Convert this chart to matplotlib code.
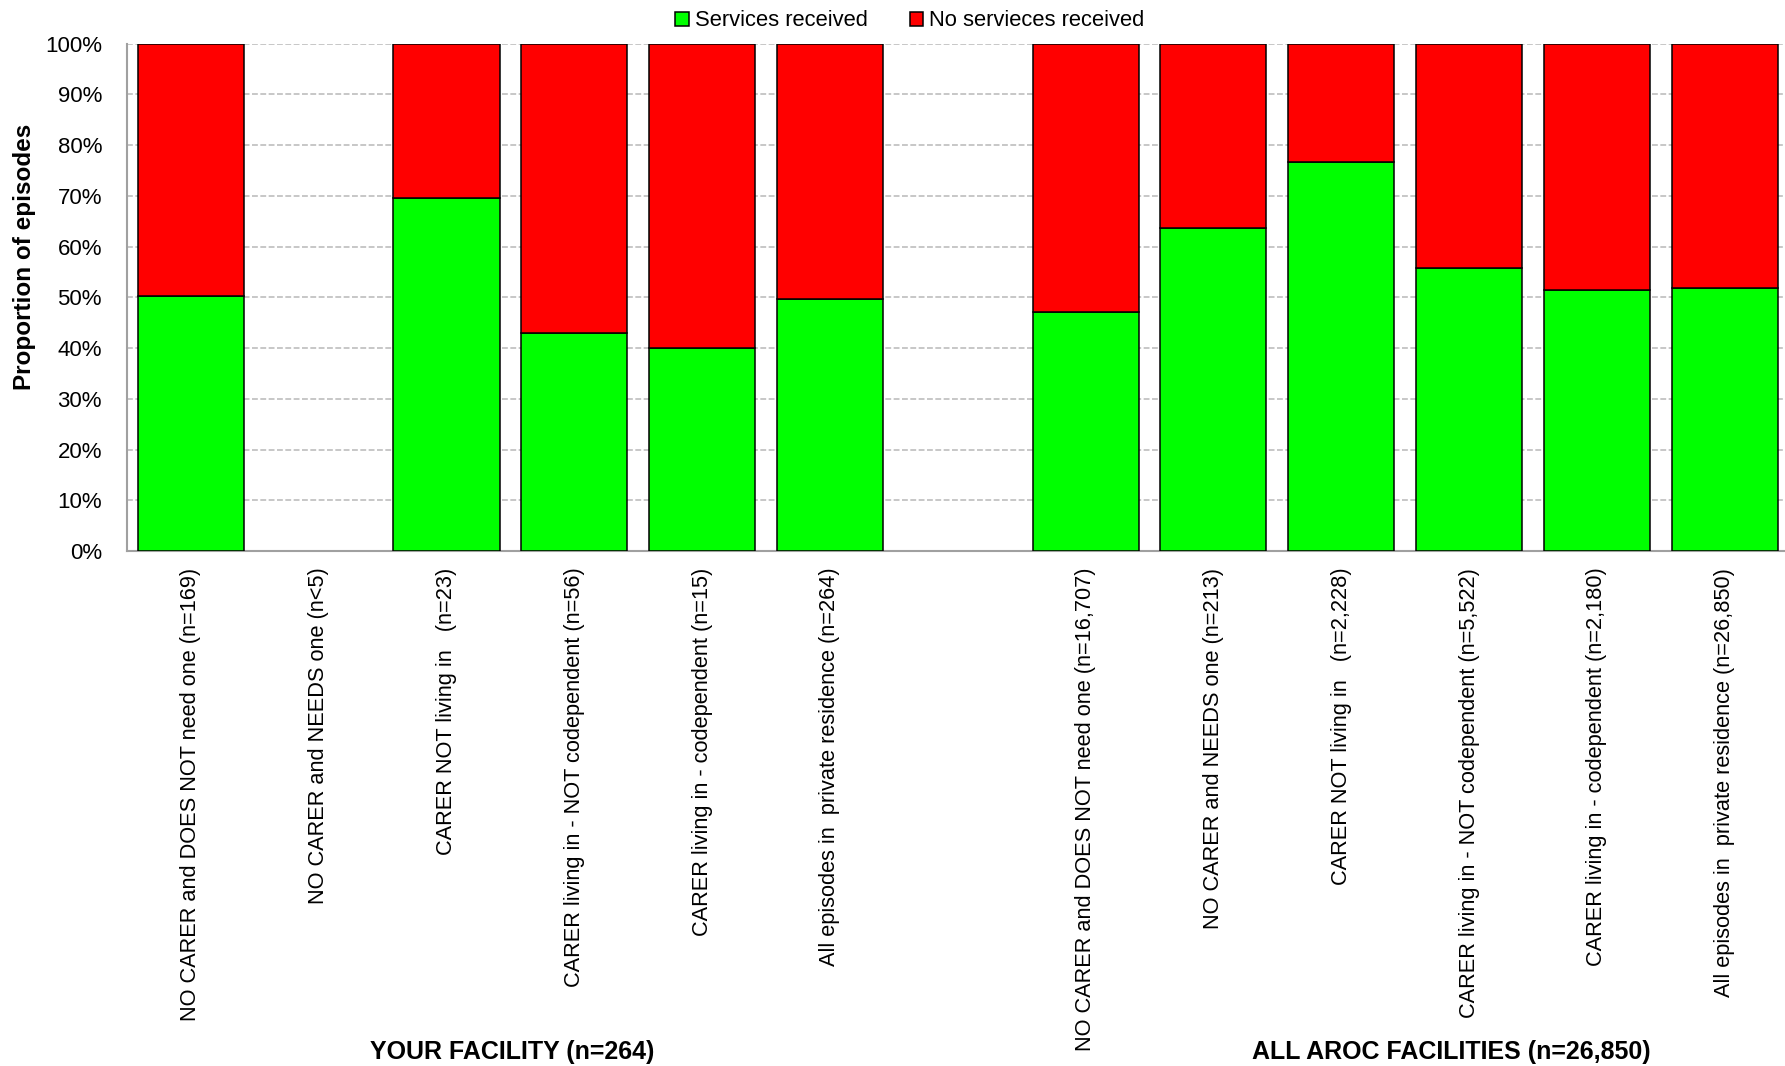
import numpy as np
import matplotlib
matplotlib.use("Agg")
import matplotlib.pyplot as plt
import matplotlib.transforms as mtrans
from matplotlib import font_manager as fm
from matplotlib.patches import Patch

# ---------------- data ----------------
categories_facility = [
    "NO CARER and DOES NOT need one (n=169)",
    "NO CARER and NEEDS one (n<5)",
    "CARER NOT living in   (n=23)",
    "CARER living in - NOT codependent (n=56)",
    "CARER living in - codependent (n=15)",
    "All episodes in  private residence (n=264)",
]
categories_all = [
    "NO CARER and DOES NOT need one (n=16,707)",
    "NO CARER and NEEDS one (n=213)",
    "CARER NOT living in   (n=2,228)",
    "CARER living in - NOT codependent (n=5,522)",
    "CARER living in - codependent (n=2,180)",
    "All episodes in  private residence (n=26,850)",
]
services_facility = [50.3, np.nan, 69.6, 42.9, 40.0, 49.6]
services_all = [47.1, 63.7, 76.7, 55.8, 51.4, 51.8]
group_labels = ["YOUR FACILITY (n=264)", "ALL AROC FACILITIES (n=26,850)"]
series_labels = ["Services received", "No servieces received"]
y_ticks = [0, 10, 20, 30, 40, 50, 60, 70, 80, 90, 100]

# ---------------- fonts ----------------
names = {f.name for f in fm.fontManager.ttflist}
regular = "Liberation Sans" if "Liberation Sans" in names else "DejaVu Sans"
narrow = "Liberation Sans Narrow" if "Liberation Sans Narrow" in names else regular
is_narrow = narrow != regular

GREEN = "#00FF00"
RED = "#FF0000"

fig = plt.figure(figsize=(17.85, 10.66), dpi=100)
ax = fig.add_axes([127/1785, 1 - 551/1066, 1 - 127/1785, (551 - 43.7)/1066])

n1 = len(categories_facility)
pos = list(range(n1)) + [n1 + 1 + i for i in range(len(categories_all))]
services = np.array(services_facility + services_all, dtype=float)
none_recv = 100 - services
labels = categories_facility + categories_all

ax.bar(pos, services, width=0.83, color=GREEN, edgecolor="black", linewidth=1.1, zorder=3)
ax.bar(pos, none_recv, bottom=services, width=0.83, color=RED, edgecolor="black", linewidth=1.1, zorder=3)

ax.set_xlim(-0.5, 12.472)
ax.set_ylim(0, 100)
ax.set_yticks(y_ticks)
ax.set_yticklabels([f"{v}%" for v in y_ticks], fontfamily=narrow, fontsize=17 if is_narrow else 16)
ax.set_xticks(pos)
ax.set_xticklabels(labels, rotation=90, fontfamily=regular, fontsize=15.7, va="top", ha="center")
ax.tick_params(axis="y", length=0, pad=18)
ax.tick_params(axis="x", length=0, pad=12)

ax.grid(axis="y", color="#bdbdbd", linestyle=(0, (3.5, 1.5)), linewidth=1.2, zorder=0)
ax.set_axisbelow(True)
for s in ["top", "right"]:
    ax.spines[s].set_visible(False)
for s in ["left", "bottom"]:
    ax.spines[s].set_color("#a0a0a0")
    ax.spines[s].set_linewidth(1.5)

fig.text(25/1785, 1 - 257/1066, "Proportion of episodes", rotation=90, ha="center", va="center",
         fontfamily=regular, fontweight="bold", fontsize=17.5)

blend = mtrans.blended_transform_factory(ax.transData, fig.transFigure)
gsize = 20 if is_narrow else 18
ax.text(2.51, 1 - 1052/1066, group_labels[0], transform=blend,
        ha="center", va="center", fontfamily=narrow, fontweight="bold", fontsize=gsize)
ax.text(9.86, 1 - 1052/1066, group_labels[1], transform=blend,
        ha="center", va="center", fontfamily=narrow, fontweight="bold", fontsize=gsize)

handles = [Patch(facecolor=GREEN, edgecolor="black", linewidth=1.1),
           Patch(facecolor=RED, edgecolor="black", linewidth=1.1)]
lsize = 18 if is_narrow else 15.8
fig.legend(handles, series_labels, loc="center", bbox_to_anchor=(910/1785, 1 - 21/1066),
           ncol=2, frameon=False, prop={"family": narrow, "size": lsize},
           handlelength=0.6, handleheight=0.6, handletextpad=0.3, columnspacing=1.9,
           borderaxespad=0, borderpad=0)

fig.savefig("out.png", dpi=100)
